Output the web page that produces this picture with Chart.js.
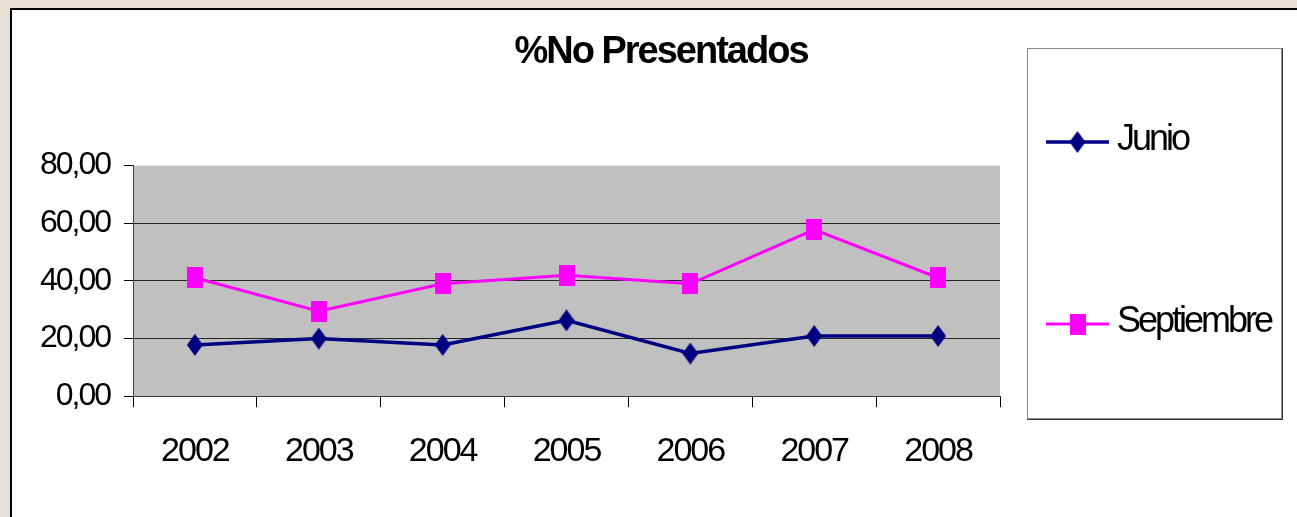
<!DOCTYPE html>
<html>
<head>
<meta charset="utf-8">
<title>%No Presentados</title>
<script src="https://cdn.jsdelivr.net/npm/chart.js@4.4.1/dist/chart.umd.min.js"></script>
<style>
  html, body { margin: 0; padding: 0; }
  body {
    width: 1297px;
    height: 517px;
    overflow: hidden;
    position: relative;
    background: #e6dfd5;
  }
  /* white sheet behind the chart, runs off the right and bottom edges */
  #sheet {
    position: absolute;
    left: 10px;
    top: 8px;
    width: 1400px;
    height: 600px;
    background: #fff;
    border-left: 2px solid #000;
    border-top: 2px solid #000;
  }
  #chart { position: absolute; left: 0; top: 0; }
</style>
</head>
<body>
<div id="sheet"></div>
<canvas id="chart" width="1297" height="517"></canvas>
<script>
// ---- data ----
const years = ['2002', '2003', '2004', '2005', '2006', '2007', '2008'];
const junio = [17.8, 20.0, 17.8, 26.3, 14.8, 20.9, 20.9];
const septiembre = [41.1, 29.5, 39.0, 42.0, 39.0, 57.8, 41.1];
const yMin = 0, yMax = 80, yStep = 20;

Chart.defaults.font.family = "'Liberation Sans', Arial, sans-serif";
Chart.defaults.color = '#000';

// Excel-like markers (a bit taller than wide)
function makeMarker(shape, color, w, h) {
  const c = document.createElement('canvas');
  c.width = w; c.height = h;
  const g = c.getContext('2d');
  g.fillStyle = color;
  if (shape === 'diamond') {
    g.beginPath();
    g.moveTo(w / 2, 0);
    g.lineTo(w, h / 2);
    g.lineTo(w / 2, h);
    g.lineTo(0, h / 2);
    g.closePath();
    g.fill();
  } else {
    g.fillRect(0, 0, w, h);
  }
  return c;
}
const diamondNavy = makeMarker('diamond', '#000080', 16, 22);
const squarePink = makeMarker('square', '#ff00ff', 16, 21);

// narrow looking text everywhere
const tightText = {
  id: 'tightText',
  beforeLayout(chart) { chart.ctx.letterSpacing = '-2px'; },
  beforeDraw(chart) { chart.ctx.letterSpacing = '-2px'; }
};

// grey plot area
const plotBackground = {
  id: 'plotBackground',
  beforeDraw(chart, args, opts) {
    const { ctx, chartArea: a } = chart;
    ctx.save();
    ctx.fillStyle = opts.color;
    ctx.fillRect(a.left, a.top, a.right - a.left, a.bottom - a.top);
    ctx.restore();
  }
};

// legend in a framed box on the right
const boxedLegend = {
  id: 'boxedLegend',
  afterDraw(chart, args, opts) {
    const ctx = chart.ctx;
    const b = opts.box;
    ctx.save();
    // shadow on right / bottom
    ctx.strokeStyle = '#3a3a3a';
    ctx.lineWidth = 2;
    ctx.beginPath();
    ctx.moveTo(b.right + 1, b.top);
    ctx.lineTo(b.right + 1, b.bottom + 1);
    ctx.lineTo(b.left, b.bottom + 1);
    ctx.stroke();
    ctx.strokeStyle = '#8a8a8a';
    ctx.lineWidth = 1;
    ctx.strokeRect(b.left + 0.5, b.top + 0.5, b.right - b.left, b.bottom - b.top);

    ctx.font = opts.font;
    ctx.letterSpacing = opts.letterSpacing;
    ctx.fillStyle = '#000';
    ctx.textBaseline = 'alphabetic';
    chart.data.datasets.forEach((ds, i) => {
      const y = opts.rows[i];
      ctx.strokeStyle = ds.borderColor;
      ctx.lineWidth = ds.borderWidth;
      ctx.beginPath();
      ctx.moveTo(opts.lineLeft, y);
      ctx.lineTo(opts.lineRight, y);
      ctx.stroke();
      Chart.helpers.drawPoint(ctx, { pointStyle: ds.pointStyle, radius: 8 }, (opts.lineLeft + opts.lineRight) / 2, y);
      ctx.fillText(ds.label, opts.textLeft, y + opts.baseline);
    });
    ctx.restore();
  }
};

new Chart(document.getElementById('chart'), {
  type: 'line',
  data: {
    labels: years,
    datasets: [
      {
        label: 'Junio',
        data: junio,
        borderColor: '#000080',
        backgroundColor: '#000080',
        borderWidth: 3.5,
        pointStyle: diamondNavy,
        pointRadius: 8,
        tension: 0
      },
      {
        label: 'Septiembre',
        data: septiembre,
        borderColor: '#ff00ff',
        backgroundColor: '#ff00ff',
        borderWidth: 3,
        pointStyle: squarePink,
        pointRadius: 8,
        tension: 0
      }
    ]
  },
  options: {
    responsive: false,
    animation: false,
    devicePixelRatio: 1,
    layout: { padding: { left: 25, right: 0, top: 0, bottom: 21 } },
    plugins: {
      legend: { display: false },
      tooltip: { enabled: false },
      title: {
        display: true,
        text: '%No Presentados',
        color: '#000',
        font: { size: 38, weight: 'bold' },
        padding: { top: 30, bottom: 90 }
      },
      plotBackground: { color: '#c0c0c0' },
      boxedLegend: {
        box: { left: 1027, top: 48, right: 1281, bottom: 418 },
        rows: [142, 324],
        lineLeft: 1046,
        lineRight: 1109,
        textLeft: 1117,
        baseline: 8,
        font: "36px 'Liberation Sans', Arial, sans-serif",
        letterSpacing: '-3px'
      }
    },
    scales: {
      x: {
        offset: true,
        grid: { offset: true, drawOnChartArea: false, tickLength: 11, color: '#000' },
        border: { color: '#404040', width: 1 },
        ticks: { padding: 24, font: { size: 34 }, maxRotation: 0, autoSkip: false }
      },
      y: {
        min: yMin,
        max: yMax,
        ticks: {
          stepSize: yStep,
          padding: 14,
          font: { size: 32 },
          callback: v => v.toFixed(2).replace('.', ',')
        },
        grid: {
          color: c => (c.tick && (c.tick.value === yMin || c.tick.value === yMax)) ? 'rgba(0,0,0,0)' : '#262626',
          tickColor: '#000',
          tickLength: 9,
          lineWidth: 1
        },
        border: { color: '#404040', width: 1 },
        afterFit: s => { s.width = 108; }
      },
      // empty column that keeps room for the legend box
      legendSpace: {
        type: 'linear',
        position: 'right',
        grid: { display: false, drawTicks: false },
        border: { display: false },
        ticks: { display: false },
        afterFit: s => { s.width = 297; }
      }
    }
  },
  plugins: [tightText, plotBackground, boxedLegend]
});
</script>
</body>
</html>
